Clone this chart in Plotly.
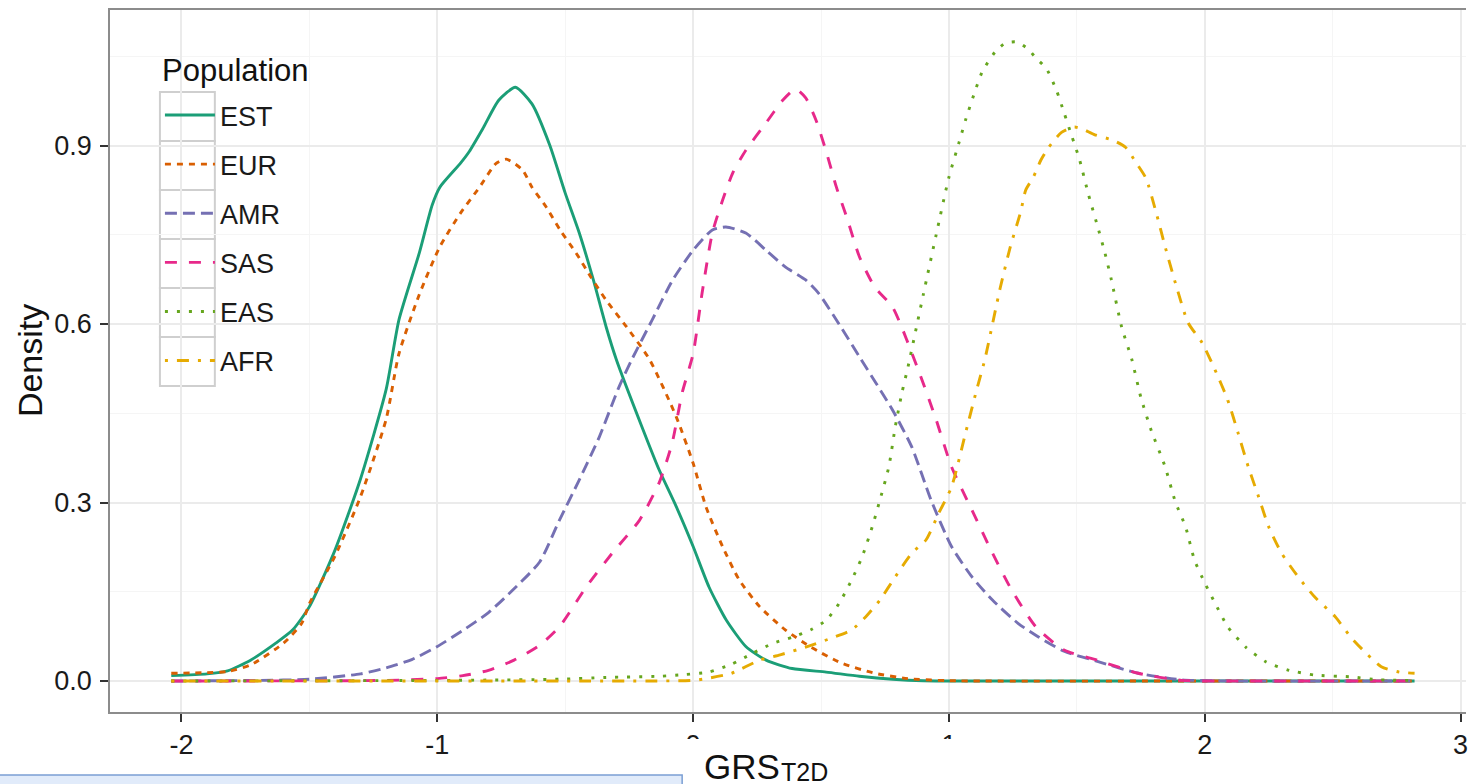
import plotly.graph_objects as go

# ---------------- data ----------------
populations = ["EST", "EUR", "AMR", "SAS", "EAS", "AFR"]
colors = ["#1B9E77", "#D95F02", "#7570B3", "#E7298A", "#66A61E", "#E6AB02"]

est_x = [-2.04, -1.9, -1.82, -1.73, -1.63, -1.565, -1.5, -1.4, -1.3, -1.2, -1.15, -1.07, -1.02, -0.99,
         -0.91, -0.875, -0.82, -0.76, -0.695, -0.63, -0.56, -0.50, -0.445, -0.39, -0.34, -0.30,
         -0.20, -0.133, -0.066, 0.0, 0.062, 0.13, 0.206, 0.285, 0.387, 0.52, 0.65, 0.78, 0.9, 1.2, 2.0, 2.82]
est_y = [0.009, 0.012, 0.017, 0.035, 0.064, 0.086, 0.125, 0.22, 0.34, 0.49, 0.607, 0.72, 0.80, 0.83,
         0.87, 0.89, 0.93, 0.976, 0.998, 0.97, 0.90, 0.82, 0.753, 0.674, 0.595, 0.54,
         0.427, 0.355, 0.293, 0.226, 0.158, 0.102, 0.058, 0.035, 0.021, 0.015, 0.008, 0.003, 0.0005, 0.0, 0.0, 0.0]

eur_x = [-2.04, -1.9, -1.82, -1.73, -1.6, -1.53, -1.5, -1.4, -1.3, -1.2, -1.15, -1.07, -0.99, -0.91,
         -0.835, -0.77, -0.73, -0.667, -0.63, -0.575, -0.52, -0.457, -0.40, -0.34, -0.26, -0.17,
         -0.066, 0.0, 0.05, 0.115, 0.18, 0.26, 0.36, 0.46, 0.58, 0.71, 0.84, 1.0, 2.0, 2.82]
eur_y = [0.013, 0.014, 0.016, 0.027, 0.064, 0.097, 0.13, 0.21, 0.31, 0.44, 0.55, 0.65, 0.73, 0.786,
         0.83, 0.87, 0.877, 0.859, 0.83, 0.797, 0.758, 0.719, 0.679, 0.64, 0.595, 0.54,
         0.444, 0.366, 0.293, 0.226, 0.17, 0.125, 0.086, 0.057, 0.03, 0.013, 0.004, 0.0005, 0.0, 0.0]

amr_x = [-2.04, -1.7, -1.5, -1.3, -1.2, -1.1, -1.0, -0.9, -0.8, -0.7, -0.6, -0.523, -0.445, -0.367,
         -0.29, -0.24, -0.16, -0.08, 0.0, 0.075, 0.128, 0.206, 0.285, 0.36, 0.44, 0.49, 0.57, 0.65,
         0.78, 0.855, 0.93, 1.01, 1.09, 1.17, 1.27, 1.35, 1.45, 1.58, 1.74, 1.91, 2.1, 2.82]
amr_y = [0.0, 0.001, 0.003, 0.012, 0.022, 0.036, 0.058, 0.085, 0.115, 0.155, 0.20, 0.27, 0.338, 0.41,
         0.494, 0.54, 0.607, 0.674, 0.724, 0.758, 0.763, 0.753, 0.724, 0.696, 0.674, 0.652, 0.60, 0.545,
         0.455, 0.393, 0.304, 0.226, 0.175, 0.136, 0.097, 0.074, 0.05, 0.033, 0.013, 0.002, 0.0, 0.0]

sas_x = [-2.04, -1.2, -1.0, -0.9, -0.8, -0.7, -0.6, -0.523, -0.418, -0.316, -0.21, -0.133, -0.082,
         -0.043, 0.0, 0.035, 0.075, 0.115, 0.155, 0.206, 0.285, 0.35, 0.40, 0.44, 0.48, 0.52, 0.56,
         0.60, 0.65, 0.71, 0.78, 0.88, 0.95, 1.01, 1.09, 1.17, 1.245, 1.34, 1.45, 1.58, 1.74, 1.91, 2.1, 2.82]
sas_y = [0.0, 0.001, 0.004, 0.009, 0.018, 0.035, 0.06, 0.091, 0.158, 0.215, 0.27, 0.333, 0.40,
         0.484, 0.55, 0.652, 0.753, 0.808, 0.854, 0.892, 0.938, 0.976, 0.995, 0.98, 0.943, 0.89, 0.83,
         0.78, 0.713, 0.662, 0.628, 0.523, 0.439, 0.36, 0.287, 0.215, 0.153, 0.091, 0.052, 0.035, 0.013, 0.001, 0.0, 0.0]

eas_x = [-2.04, -1.0, -0.52, -0.34, -0.13, -0.03, 0.06, 0.15, 0.23, 0.31, 0.39, 0.46, 0.52, 0.57,
         0.62, 0.66, 0.70, 0.73, 0.765, 0.79, 0.816, 0.84, 0.9, 0.95, 1.0, 1.04, 1.065, 1.097, 1.13,
         1.18, 1.22, 1.265, 1.31, 1.34, 1.38, 1.42, 1.45, 1.48, 1.51, 1.545, 1.585, 1.61, 1.635,
         1.675, 1.715, 1.75, 1.79, 1.845, 1.885, 1.925, 1.96, 2.0, 2.04, 2.09, 2.16, 2.24, 2.33,
         2.43, 2.57, 2.68, 2.82]
eas_y = [0.0, 0.001, 0.003, 0.006, 0.008, 0.011, 0.015, 0.028, 0.046, 0.063, 0.074, 0.086, 0.102, 0.13,
         0.17, 0.208, 0.259, 0.304, 0.36, 0.427, 0.484, 0.528, 0.65, 0.75, 0.847, 0.906, 0.943, 0.985, 1.024,
         1.057, 1.072, 1.074, 1.062, 1.047, 1.03, 0.993, 0.955, 0.916, 0.877, 0.818, 0.758, 0.719, 0.674,
         0.595, 0.54, 0.477, 0.422, 0.36, 0.301, 0.259, 0.203, 0.165, 0.131, 0.091, 0.057, 0.032, 0.018,
         0.01, 0.007, 0.002, 0.001]

afr_x = [-2.04, -0.5, 0.0, 0.05, 0.15, 0.26, 0.34, 0.44, 0.54, 0.62, 0.675, 0.73, 0.79, 0.855, 0.91,
         0.96, 1.01, 1.065, 1.105, 1.14, 1.2, 1.24, 1.28, 1.30, 1.33, 1.36, 1.39, 1.44, 1.49, 1.52,
         1.57, 1.64, 1.69, 1.73, 1.77, 1.81, 1.845, 1.885, 1.935, 1.99, 2.04, 2.09, 2.13, 2.17, 2.21,
         2.25, 2.30, 2.365, 2.43, 2.51, 2.57, 2.63, 2.69, 2.76, 2.82]
afr_y = [0.0, 0.0, 0.001, 0.004, 0.013, 0.035, 0.044, 0.057, 0.072, 0.086, 0.108, 0.136, 0.175, 0.215, 0.237,
         0.282, 0.326, 0.417, 0.484, 0.54, 0.66, 0.73, 0.788, 0.825, 0.847, 0.876, 0.897, 0.922, 0.931, 0.928,
         0.918, 0.909, 0.897, 0.872, 0.845, 0.787, 0.73, 0.669, 0.602, 0.568, 0.523, 0.472, 0.417, 0.36, 0.31,
         0.259, 0.215, 0.175, 0.141, 0.108, 0.074, 0.047, 0.024, 0.015, 0.013]

x_tick_vals = [-2, -1, 0, 1, 2, 3]
x_tick_text = ["-2", "-1", "0", "1", "2", "3"]
y_tick_vals = [0.0, 0.3, 0.6, 0.9]
y_tick_text = ["0.0", "0.3", "0.6", "0.9"]
x_minor = [-1.5, -0.5, 0.5, 1.5, 2.5]
y_minor = [0.15, 0.45, 0.75, 1.05]

legend_title = "Population"
x_title_main = "GRS"
x_title_sub = "T2D"
y_title = "Density"

series_x = [est_x, eur_x, amr_x, sas_x, eas_x, afr_x]
series_y = [est_y, eur_y, amr_y, sas_y, eas_y, afr_y]
dashes = ["solid", "6px,6px", "12px,6px", "12px,12px", "3px,9px", "3px,9px,12px,9px"]

# ---------------- layout geometry (pixels) ----------------
W, H = 1468, 784
PL, PT, PW, PH = 110, 10, 1358, 702


def px(x):
    return (x - PL) / PW


def py(y):
    return (PT + PH - y) / PH


FONT = "Liberation Sans, Arial, Helvetica, sans-serif"

fig = go.Figure()
for name, xs, ys, c, d in zip(populations, series_x, series_y, colors, dashes):
    fig.add_trace(go.Scatter(
        x=xs, y=ys, mode="lines", name=name, legendgroup=name,
        line=dict(color=c, width=2.9, dash=d, shape="spline", smoothing=0.6),
    ))

shapes = []
# legend background (hides grid)
shapes.append(dict(type="rect", xref="paper", yref="paper", x0=px(148), x1=px(345), y0=py(395), y1=py(35),
                   fillcolor="white", line=dict(width=0), layer="between"))
# legend key boxes
for i in range(len(populations)):
    top = 92 + 49 * i
    shapes.append(dict(type="rect", xref="paper", yref="paper", x0=px(160), x1=px(215),
                       y0=py(top + 49), y1=py(top), fillcolor="white",
                       line=dict(color="#cfcfcf", width=2), layer="between"))
# white cover over the lower part of some tick labels
shapes.append(dict(type="rect", xref="paper", yref="paper", x0=px(640), x1=px(1100), y0=py(790), y1=py(739),
                   fillcolor="white", line=dict(width=0), layer="above"))
# light blue box bottom-left
shapes.append(dict(type="rect", xref="paper", yref="paper", x0=px(-3), x1=px(683), y0=py(795), y1=py(775),
                   fillcolor="#e1ebfa", line=dict(color="#7b9fd4", width=1.5), layer="above"))

fig.update_layout(
    width=W, height=H,
    margin=dict(l=PL, r=W - PL - PW, t=PT, b=H - PT - PH),
    paper_bgcolor="white", plot_bgcolor="white",
    font=dict(family=FONT, color="#1a1a1a"),
    showlegend=True,
    legend=dict(x=px(160), y=py(91), xanchor="left", yanchor="top",
                bgcolor="rgba(0,0,0,0)", borderwidth=0,
                font=dict(size=27, color="#1a1a1a", family=FONT),
                tracegroupgap=11, itemwidth=50),
    shapes=shapes,
    annotations=[
        dict(text=legend_title, x=px(160), y=py(70), xref="paper", yref="paper",
             showarrow=False, xanchor="left", yanchor="middle", font=dict(size=31, color="#111")),
        dict(text=x_title_main, x=px(703), y=py(766), xref="paper", yref="paper",
             showarrow=False, xanchor="left", yanchor="middle", font=dict(size=35, color="#111")),
        dict(text=x_title_sub, x=px(780), y=py(772), xref="paper", yref="paper",
             showarrow=False, xanchor="left", yanchor="middle", font=dict(size=25, color="#111")),
        dict(text=y_title, x=px(30), y=py(361), xref="paper", yref="paper", textangle=-90,
             showarrow=False, xanchor="center", yanchor="middle", font=dict(size=34, color="#111")),
    ],
)

fig.update_xaxes(
    range=[(PL - 694) / 256.2, (PL + PW - 694) / 256.2],
    tickmode="array", tickvals=x_tick_vals, ticktext=x_tick_text,
    ticks="outside", ticklen=8, tickwidth=2, tickcolor="#333",
    tickfont=dict(size=27, color="#1a1a1a"), ticklabeloverflow="allow",
    showgrid=True, gridcolor="#ebebeb", gridwidth=1.5,
    minor=dict(tickvals=x_minor, showgrid=True, gridcolor="#f5f5f5", gridwidth=1.2, ticks=""),
    showline=True, linecolor="#8c8c8c", linewidth=1.5, mirror=True,
    zeroline=False,
)
fig.update_yaxes(
    range=[(681 - (PT + PH)) / 595.0, (681 - PT) / 595.0],
    tickmode="array", tickvals=y_tick_vals, ticktext=y_tick_text,
    ticks="outside", ticklen=8, tickwidth=2, tickcolor="#333",
    tickfont=dict(size=27, color="#1a1a1a"), ticklabelstandoff=3,
    showgrid=True, gridcolor="#ebebeb", gridwidth=1.5,
    minor=dict(tickvals=y_minor, showgrid=True, gridcolor="#f5f5f5", gridwidth=1.2, ticks=""),
    showline=True, linecolor="#8c8c8c", linewidth=1.5, mirror=False,
    zeroline=False,
)

fig.write_html("out.html")
